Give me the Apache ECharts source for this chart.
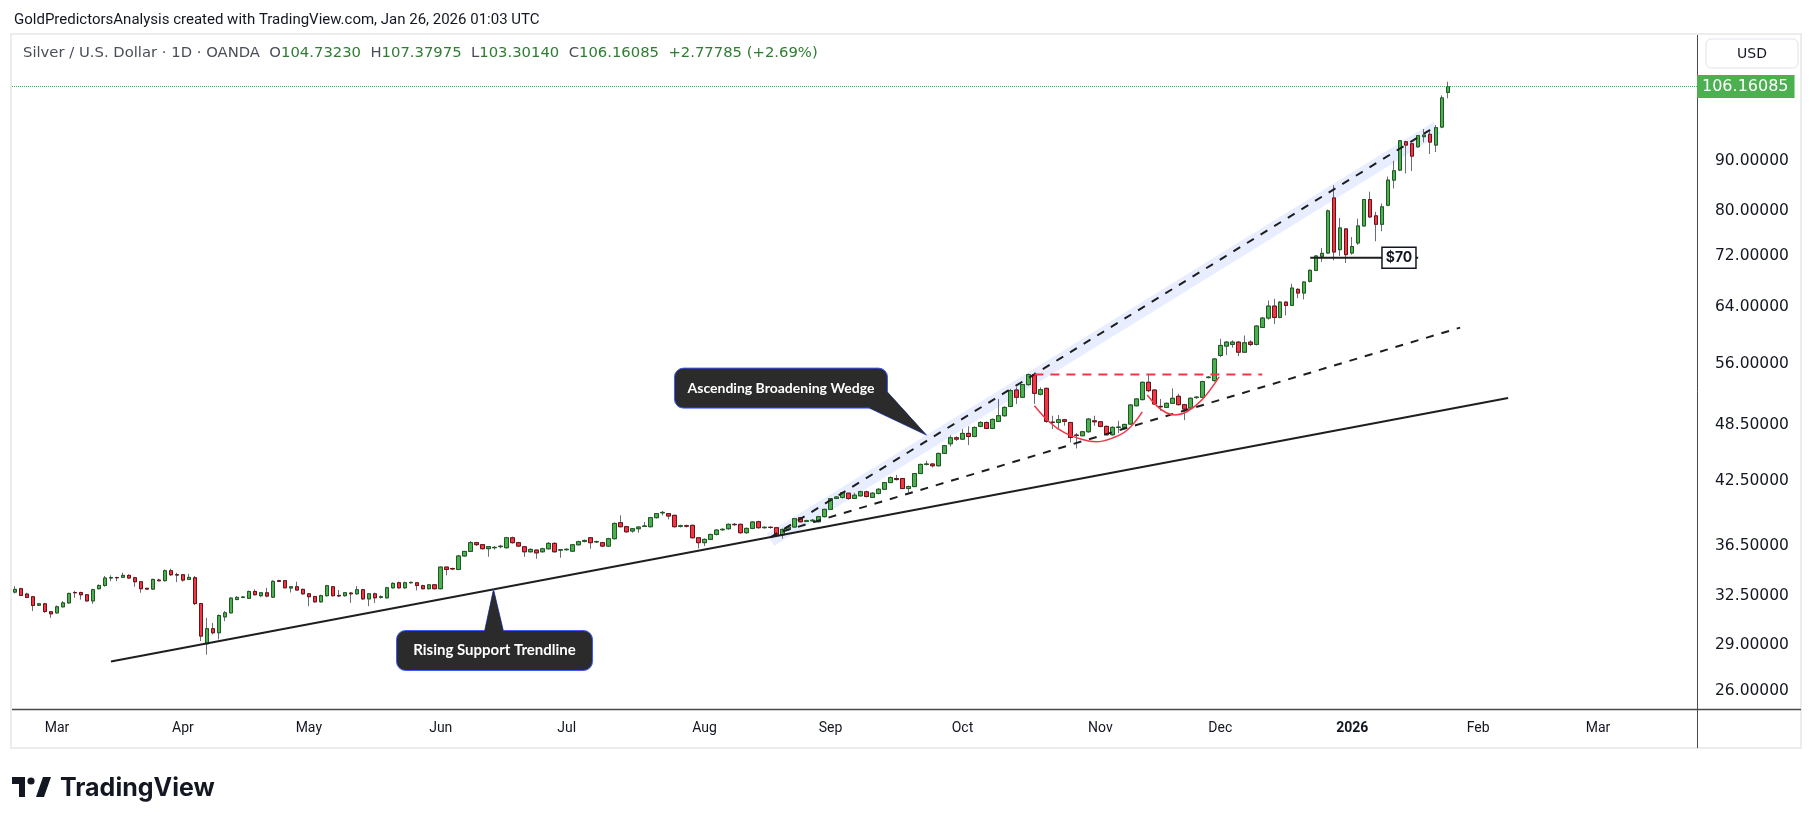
<!DOCTYPE html>
<html>
<head>
<meta charset="utf-8">
<script src="https://cdn.jsdelivr.net/npm/echarts@6/dist/echarts.min.js"></script>
<style>
  html, body { margin: 0; padding: 0; background: #fff; }
  #chart { width: 1815px; height: 824px; }
</style>
</head>
<body>
<div id="chart"></div>
<script>
// daily XAG/USD bars, Feb 20 2025 -> Jan 26 2026 (weekdays, market holidays skipped)
var startDay = '2025-02-20'
var holidays = ['2025-04-18', '2025-12-25', '2026-01-01']
var slotCount = 281

var open = [32.49,32.75,32.34,32.14,31.51,31.61,31.03,30.95,31.39,31.68,32.46,32.46,32.29,31.83,32.75,33.00,33.58,33.62,33.64,33.79,
  33.60,33.29,32.78,32.72,33.42,33.37,34.16,33.84,33.84,33.47,33.60,31.63,28.79,29.82,29.54,30.66,30.95,31.93,32.09,32.02,
  32.54,32.22,32.44,32.11,33.37,33.37,32.80,32.90,32.70,32.36,32.16,31.76,32.22,32.90,32.24,32.22,32.42,32.36,32.67,31.98,
  32.36,32.09,32.06,32.82,33.21,32.82,33.21,33.21,32.98,32.75,33.05,32.75,34.45,34.34,34.26,35.36,35.74,36.48,36.31,35.97,
  36.05,36.14,36.05,36.90,36.48,36.13,35.71,35.85,35.71,35.96,36.42,35.85,35.88,35.76,36.30,36.59,36.90,36.54,36.48,36.19,
  36.82,38.23,37.87,37.49,37.69,37.90,37.87,38.68,39.12,39.05,38.89,37.90,37.95,37.99,36.90,36.48,36.76,37.19,37.60,37.69,
  38.08,38.08,37.34,37.72,38.31,37.78,37.82,37.78,37.16,37.63,37.84,38.68,38.35,38.40,38.31,38.77,39.44,40.46,40.56,40.96,
  40.46,40.71,41.09,40.56,40.93,41.34,41.99,42.39,42.39,41.41,41.60,42.89,43.82,43.86,43.68,44.96,45.99,46.64,46.49,47.12,
  46.78,47.90,48.34,47.67,48.46,49.11,50.19,52.16,51.28,52.82,54.07,51.64,52.36,48.38,48.34,48.65,48.34,46.93,46.86,47.30,
  48.53,48.42,47.90,46.97,47.79,47.79,48.16,50.27,51.00,53.11,52.16,50.20,50.08,50.56,51.40,50.40,50.00,51.24,51.28,53.70,
  53.32,56.55,57.81,58.04,58.35,56.99,58.35,58.04,60.40,61.73,63.49,61.83,64.08,63.59,66.03,65.46,67.28,69.03,71.34,71.89,
  81.79,72.46,76.07,71.89,73.61,76.60,81.48,78.43,76.90,80.41,85.28,87.30,93.29,92.86,92.21,94.41,94.93,92.57,96.56,104.73]
var high = [32.95,32.82,32.44,32.20,31.68,31.68,31.08,31.49,31.81,32.44,32.59,32.52,32.34,32.75,33.08,33.74,33.79,33.68,34.00,33.87,
  33.68,33.34,32.82,33.53,33.53,34.26,34.32,34.00,33.90,33.92,33.74,31.68,30.59,30.23,30.83,31.08,32.09,32.19,32.19,32.60,
  32.70,32.50,32.82,33.40,33.45,33.42,32.95,33.29,32.75,32.40,32.20,32.30,33.05,32.95,32.65,32.50,32.50,32.95,32.75,32.40,
  32.45,32.25,32.90,33.25,33.30,33.30,33.30,33.25,33.05,33.10,33.10,34.50,34.50,34.40,35.45,35.77,36.62,36.55,36.35,36.20,
  36.20,36.30,36.98,37.00,36.55,36.20,36.00,35.90,36.05,36.53,36.50,35.95,36.00,36.35,36.65,36.75,36.95,36.65,36.55,36.90,
  38.25,38.89,37.95,37.75,37.90,38.29,38.75,39.10,39.29,39.10,38.95,38.05,38.05,38.05,36.95,36.85,37.25,37.65,37.75,38.15,
  38.20,38.15,37.80,38.35,38.40,37.90,37.90,37.85,37.70,37.90,38.65,38.75,38.50,38.55,38.85,39.50,40.50,40.70,41.10,41.00,
  41.00,41.20,41.20,41.05,41.45,42.05,42.60,42.76,42.45,41.70,42.95,43.90,44.20,43.95,45.05,45.85,46.90,46.80,47.60,47.90,
  47.90,48.50,48.45,48.80,51.06,50.20,52.30,52.49,52.90,54.20,54.36,52.49,52.45,49.11,49.19,48.75,48.40,47.15,47.40,48.85,
  49.11,48.50,48.00,47.90,48.53,48.20,50.45,51.15,53.20,54.03,52.20,51.08,50.65,52.36,51.70,50.50,51.25,51.40,53.30,53.90,
  56.20,58.81,58.50,58.60,58.50,59.26,58.60,60.70,61.90,64.34,64.59,64.20,64.20,66.91,66.20,67.30,69.20,71.50,72.74,79.60,
  84.26,78.04,76.20,74.64,77.92,81.60,83.00,79.17,80.72,86.00,89.23,93.70,93.50,93.00,94.80,96.12,95.89,97.01,104.00,107.37975]
var low = [32.39,32.19,32.04,31.08,31.44,30.95,30.59,30.90,31.35,31.63,32.06,31.93,31.78,31.61,32.70,32.90,33.34,33.34,33.60,33.53,
  32.90,32.44,32.67,32.67,33.32,33.32,33.74,33.26,33.29,33.42,31.51,28.97,28.06,29.42,29.08,30.35,30.90,31.88,32.04,31.98,
  32.24,32.10,32.10,32.05,33.26,32.80,32.46,32.60,32.30,31.44,31.70,31.70,32.15,32.15,32.10,32.15,31.68,32.30,31.90,31.44,
  31.68,32.00,32.00,32.75,32.75,32.75,33.15,32.62,32.70,32.70,32.70,32.70,33.79,34.20,34.20,35.30,35.70,36.20,35.90,35.30,
  35.90,36.00,35.98,36.40,36.10,35.29,35.65,35.13,35.65,35.90,35.65,35.21,35.80,35.70,36.25,36.50,35.96,36.45,36.10,36.10,
  36.75,37.80,37.35,37.34,37.34,37.85,37.80,38.60,38.89,38.53,37.80,37.80,37.80,36.85,35.99,36.19,36.70,37.10,37.50,37.60,
  37.95,37.25,37.25,37.65,37.70,37.70,37.70,37.05,36.82,37.55,37.80,38.25,38.30,38.30,38.25,38.70,39.40,40.40,40.45,40.35,
  40.40,40.65,40.55,40.50,40.85,41.30,41.95,42.20,41.35,41.01,41.55,42.85,43.70,43.50,43.60,44.90,45.70,46.30,46.40,45.85,
  46.70,47.80,47.60,47.60,48.40,49.00,50.10,50.48,51.20,52.70,50.48,51.50,48.30,47.60,47.60,47.97,46.13,45.49,46.80,47.20,
  47.97,47.80,46.90,46.90,47.15,47.70,48.10,50.20,50.90,51.90,50.40,49.69,50.00,50.50,50.30,48.60,49.90,51.10,51.20,53.60,
  53.20,56.33,56.60,57.60,56.46,56.90,57.80,57.90,60.30,61.50,60.87,61.70,62.12,63.50,64.69,64.49,67.10,68.90,70.40,71.80,
  70.68,71.40,70.24,71.62,73.27,76.50,78.10,73.89,75.66,80.20,83.62,87.10,86.61,87.10,92.00,93.15,90.64,91.07,96.30,103.30140]
var close = [32.70,32.24,32.09,31.49,31.61,31.05,30.88,31.39,31.68,32.39,32.44,32.29,31.83,32.67,33.00,33.58,33.62,33.60,33.79,33.58,
  33.29,32.75,32.72,33.47,33.37,34.16,33.84,33.82,33.42,33.63,31.63,29.31,29.82,29.54,30.76,30.95,32.04,32.09,32.12,32.54,
  32.29,32.44,32.19,33.32,33.32,32.82,32.90,32.65,32.36,32.14,31.76,32.22,32.98,32.22,32.20,32.44,32.36,32.67,31.98,32.36,
  32.06,32.14,32.82,33.16,32.82,33.21,33.24,33.00,32.75,33.05,32.75,34.45,34.26,34.30,35.36,35.74,36.48,36.31,35.97,36.14,
  36.08,36.18,36.90,36.48,36.19,35.71,35.91,35.62,35.96,36.42,35.71,35.88,35.92,36.30,36.56,36.67,36.48,36.58,36.19,36.82,
  38.16,37.87,37.42,37.69,37.84,37.93,38.68,39.05,39.16,38.83,37.87,37.95,37.92,36.90,36.48,36.76,37.19,37.57,37.64,38.08,
  38.05,37.34,37.72,38.29,37.78,37.82,37.80,37.11,37.63,37.84,38.59,38.31,38.40,38.45,38.77,39.44,40.44,40.60,41.01,40.46,
  40.77,41.11,40.65,40.96,41.34,41.99,42.49,42.29,41.41,41.60,42.89,43.82,43.86,43.68,44.96,45.78,46.64,46.49,47.12,46.78,
  47.78,48.34,47.67,48.69,49.11,50.08,52.08,51.28,52.82,54.07,51.76,52.20,48.46,48.34,48.65,48.46,46.67,46.90,47.30,48.73,
  48.42,47.90,46.97,47.79,47.82,48.12,50.36,51.08,53.11,52.08,50.48,50.15,50.56,51.16,50.40,49.88,51.16,51.30,53.20,53.76,
  56.09,57.90,58.35,58.35,56.99,58.26,58.04,60.59,61.73,63.49,61.83,64.08,63.59,66.23,65.46,67.17,69.03,71.40,71.84,79.35,
  72.06,76.25,71.62,72.99,76.60,81.48,78.23,76.90,80.10,85.28,87.16,93.51,92.57,90.21,94.63,94.78,93.22,96.41,103.38,106.16085]

var lastPrice = 106.16085
var priceTicks = [26, 29, 32.5, 36.5, 42.5, 48.5, 56, 64, 72, 80, 90]

// drawings, as [bar index, price]
var supportLine = [[16, 27.62], [249, 51.2]]
var wedgeTop = [[126, 36.94], [236, 95.93]]
var wedgeBottom = [[128, 37.45], [241, 60.37]]
var bandSpan = [[125.8, 36.88], [237, 96.77]]
var neckline = [[170, 54.1], [208, 54.1]]
var cupArc = [[170, 50.27], [172.5, 48.4], [175, 47.2], [178, 46.45], [180.3, 46.2], [183, 46.6], [185.5, 47.5], [188, 49.56]]
var handleArc = [[188.8, 51.55], [190.5, 50.2], [192, 49.45], [193.5, 49.2], [195.5, 49.6], [198, 51.0], [200.8, 53.78]]
var level70 = [[216, 71.1], [234, 71.1]]
var level70Tag = [230.8, 71.1]
var wedgeTip = [152, 46.93]
var supportTip = [79.8, 32.69]

var months = ['Jan', 'Feb', 'Mar', 'Apr', 'May', 'Jun', 'Jul', 'Aug', 'Sep', 'Oct', 'Nov', 'Dec']

function buildDays () {
  var out = []
  var d = new Date(startDay + 'T00:00:00Z')
  while (out.length < slotCount) {
    var s = d.toISOString().slice(0, 10)
    var wd = d.getUTCDay()
    if (wd !== 0 && wd !== 6 && holidays.indexOf(s) < 0) out.push(s)
    d.setUTCDate(d.getUTCDate() + 1)
  }
  return out
}
var days = buildDays()

var candles = open.map(function (o, i) { return [o, close[i], low[i], high[i]] })
var bodies = open.map(function (o, i) { return [o, close[i], Math.min(o, close[i]), Math.max(o, close[i])] })

var green = '#4CAF50'
var red = '#F23645'
var ink = '#131722'
var scaleFont = 'DejaVu Sans'
var legendFont = '14.8px "DejaVu Sans"'

function lineSeries (pts, style, smooth) {
  return {type: 'line', xAxisIndex: 1, yAxisIndex: 0, data: pts, symbol: 'none', silent: true,
    smooth: smooth || false, lineStyle: style, z: 5, animation: false}
}

function callout (tip, text, box, ptr, size) {
  return {
    type: 'custom', xAxisIndex: 1, yAxisIndex: 0, silent: true, z: 8, data: [tip],
    renderItem: function (params, api) {
      var p = api.coord([api.value(0), api.value(1)])
      var pts = ptr.map(function (q) { return [p[0] + q[0], p[1] + q[1]] })
      return {type: 'group', children: [
        {type: 'polygon', shape: {points: pts}, style: {fill: '#2B2B2B', stroke: '#3D5AFE', lineWidth: 1}},
        {type: 'rect', shape: {x: p[0] + box[0], y: p[1] + box[1], width: box[2], height: box[3], r: 9},
          style: {fill: '#2B2B2B', stroke: '#3D5AFE', lineWidth: 1}},
        {type: 'polygon', shape: {points: pts}, style: {fill: '#2B2B2B'}},
        {type: 'text', x: p[0] + box[0] + box[2] / 2, y: p[1] + box[1] + box[3] / 2,
          style: {text: text, fill: '#FFFFFF', font: 'bold ' + size + 'px Lato', align: 'center', verticalAlign: 'middle'}}
      ]}
    }
  }
}

var chart = echarts.init(document.getElementById('chart'))
var option = {
  animation: false,
  backgroundColor: '#FFFFFF',
  textStyle: {fontFamily: 'Roboto'},
  grid: {left: 12, right: 118, top: 35, bottom: 114.5, containLabel: false},
  xAxis: [{
    type: 'category', data: days, boundaryGap: true,
    axisLine: {show: false}, axisTick: {show: false}, splitLine: {show: false},
    axisLabel: {
      color: ink, fontSize: 14, margin: 12, hideOverlap: false,
      interval: function (i, v) { return i > 0 && v.slice(5, 7) !== days[i - 1].slice(5, 7) },
      formatter: function (v) {
        var m = parseInt(v.slice(5, 7), 10) - 1
        return m === 0 ? '{y|' + v.slice(0, 4) + '}' : months[m]
      },
      rich: {y: {fontWeight: 'bold', fontSize: 14, color: ink}}
    }
  }, {
    type: 'value', min: -0.5, max: slotCount - 0.5, show: false
  }],
  yAxis: {
    type: 'log', logBase: 10, min: 24.68, max: 119.8, position: 'right',
    axisLine: {show: false}, axisTick: {show: false}, splitLine: {show: false},
    axisLabel: {customValues: priceTicks, color: ink, margin: 18,
      formatter: function (v) { return '{p|' + Number(v).toFixed(5) + '}' },
      rich: {p: {fontSize: 15.5, fontFamily: scaleFont, color: ink, padding: [8, 0, 0, 0]}}}
  },
  series: [
    {type: 'custom', xAxisIndex: 1, yAxisIndex: 0, silent: true, z: 1, data: [bandSpan[0]],
      renderItem: function (params, api) {
        var a = api.coord(bandSpan[0])
        var b = api.coord(bandSpan[1])
        var dx = b[0] - a[0], dy = b[1] - a[1]
        var len = Math.sqrt(dx * dx + dy * dy)
        var nx = -dy / len, ny = dx / len
        var up = -5, dn = 9
        var pts = [[a[0] + nx * up, a[1] + ny * up], [b[0] + nx * up, b[1] + ny * up],
          [b[0] + nx * dn, b[1] + ny * dn], [a[0] + nx * dn, a[1] + ny * dn]]
        return {type: 'polygon', shape: {points: pts}, style: {fill: 'rgba(41,98,255,0.11)'}}
      }},
    {type: 'candlestick', name: 'wicks', data: candles, barWidth: 4, z: 2, silent: true,
      itemStyle: {color: green, color0: red, borderColor: '#6A6D78', borderColor0: '#6A6D78', borderWidth: 1}},
    {type: 'candlestick', name: 'XAGUSD', data: bodies, barWidth: 4, z: 3, silent: true,
      itemStyle: {color: green, color0: red, borderColor: '#1E5A22', borderColor0: '#6B1219', borderWidth: 1},
      markLine: {silent: true, symbol: 'none', animation: false,
        lineStyle: {color: green, type: 'dotted', width: 1},
        label: {position: 'end', distance: 0, formatter: String(lastPrice), color: '#FFFFFF',
          backgroundColor: green, padding: [4, 6, 3, 5], fontSize: 16, fontFamily: scaleFont},
        data: [{yAxis: lastPrice}]}},
    lineSeries(supportLine, {color: '#1E1E1E', width: 2}),
    lineSeries(wedgeTop, {color: '#1E1E1E', width: 2, type: [8, 8]}),
    lineSeries(wedgeBottom, {color: '#1E1E1E', width: 2, type: [8, 8]}),
    lineSeries(neckline, {color: red, width: 2, type: [9, 7]}),
    lineSeries(cupArc, {color: red, width: 1.5}, 0.4),
    lineSeries(handleArc, {color: red, width: 1.5}, 0.4),
    lineSeries(level70, {color: '#1E1E1E', width: 2}),
    {type: 'custom', xAxisIndex: 1, yAxisIndex: 0, silent: true, z: 8, data: [level70Tag],
      renderItem: function (params, api) {
        var p = api.coord([api.value(0), api.value(1)])
        return {type: 'group', children: [
          {type: 'rect', shape: {x: p[0] - 17, y: p[1] - 10.5, width: 34, height: 21},
            style: {fill: '#FFFFFF', stroke: '#131722', lineWidth: 1.5}},
          {type: 'text', x: p[0], y: p[1] + 0.5, style: {text: '$70', fill: ink, font: 'bold 14px Inter',
            align: 'center', verticalAlign: 'middle'}}
        ]}
      }},
    callout(wedgeTip, 'Ascending Broadening Wedge', [-252, -67, 213, 40], [[-57, -27], [0, 0], [-39, -43]], 14),
    callout(supportTip, 'Rising Support Trendline', [-97, 41, 196, 40], [[-9, 42], [0, 0], [10, 42]], 15)
  ],
  graphic: [
    {type: 'rect', shape: {x: 11, y: 34, width: 1790, height: 714}, style: {fill: 'none', stroke: '#ECECEC', lineWidth: 2}, silent: true},
    {type: 'line', shape: {x1: 12, y1: 709.5, x2: 1801, y2: 709.5}, style: {stroke: '#4A4A4A', lineWidth: 1.5}, silent: true},
    {type: 'line', shape: {x1: 1697.5, y1: 35, x2: 1697.5, y2: 748}, style: {stroke: '#4A4A4A', lineWidth: 1}, silent: true},
    {type: 'text', x: 14, y: 20, style: {text: 'GoldPredictorsAnalysis created with TradingView.com, Jan 26, 2026 01:03 UTC',
      fill: ink, font: '15px Roboto', verticalAlign: 'middle'}, silent: true},
    {type: 'text', x: 23, y: 53, silent: true, style: {
      text: '{t|Silver / U.S. Dollar · 1D · OANDA}  {l|O}{v|104.73230}  {l|H}{v|107.37975}  {l|L}{v|103.30140}  {l|C}{v|106.16085}  {v|+2.77785 (+2.69%)}',
      verticalAlign: 'middle', font: legendFont,
      rich: {t: {fill: '#4A4E5A', font: legendFont}, l: {fill: '#4A4E5A', font: legendFont},
        v: {fill: '#2E7D32', font: legendFont}}}},
    {type: 'rect', shape: {x: 1706, y: 39, width: 92, height: 29, r: 5}, style: {fill: '#FFFFFF', stroke: '#E0E3EB', lineWidth: 1}, silent: true},
    {type: 'text', x: 1752, y: 54, style: {text: 'USD', fill: ink, font: '14px "DejaVu Sans"', align: 'center', verticalAlign: 'middle'}, silent: true},
    {type: 'rect', shape: {x: 12, y: 777, width: 13, height: 7}, style: {fill: ink}, silent: true},
    {type: 'rect', shape: {x: 19, y: 777, width: 6, height: 20}, style: {fill: ink}, silent: true},
    {type: 'circle', shape: {cx: 31, cy: 781, r: 3.6}, style: {fill: ink}, silent: true},
    {type: 'polygon', shape: {points: [[36, 797], [43, 777], [51, 777], [44, 797]]}, style: {fill: ink}, silent: true},
    {type: 'text', x: 60, y: 788, style: {text: 'TradingView', fill: ink, font: 'bold 25px Inter', verticalAlign: 'middle'}, silent: true}
  ]
}
chart.setOption(option)
window.addEventListener('resize', chart.resize)
</script>
</body>
</html>
